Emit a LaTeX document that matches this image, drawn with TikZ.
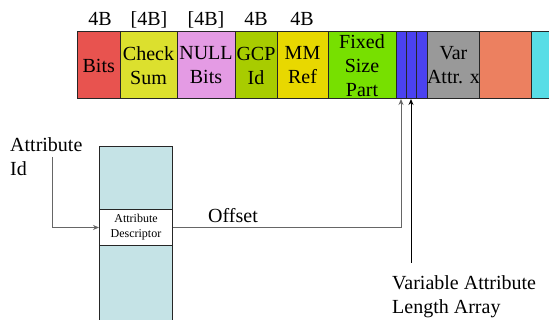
\documentclass[tikz,border=0pt]{standalone}
\usepackage{fontspec}
\setmainfont{Liberation Serif}
\usetikzlibrary{arrows.meta}

\definecolor{cBits}{HTML}{E8534F}
\definecolor{cCheck}{HTML}{DCE02E}
\definecolor{cNull}{HTML}{E49BE4}
\definecolor{cGcp}{HTML}{A8CC00}
\definecolor{cMm}{HTML}{E8D800}
\definecolor{cFixed}{HTML}{77E000}
\definecolor{cSlot}{HTML}{4B42F0}
\definecolor{cVar}{HTML}{999999}
\definecolor{cSalmon}{HTML}{EC8060}
\definecolor{cCyan}{HTML}{58DDE6}
\definecolor{cColumn}{HTML}{C5E3E6}

\tikzset{
  seg/.style={draw=black!85, line width=1pt, anchor=north west, inner sep=0pt,
    outer sep=0pt, minimum height=67pt, align=center,
    font=\fontsize{20}{24}\selectfont},
  size/.style={anchor=base, inner sep=0pt, font=\fontsize{20}{24}\selectfont},
  label/.style={anchor=north west, inner sep=0pt, align=left,
    font=\fontsize{20}{24}\selectfont},
  wire/.style={line width=1pt},
  tip/.style={-{Stealth[length=6pt,width=5pt]}},
}

\begin{document}
\begin{tikzpicture}[x=1pt,y=-1pt]
  \clip (0,0) rectangle (549,320);
  \fill[white] (0,0) rectangle (549,320);

  % record layout bar
  \node[seg, fill=cBits,   minimum width=42.5pt] (bits)  at (77.5,32) {Bits};
  \node[seg, fill=cCheck,  minimum width=57pt]   (check) at (120,32)  {Check\\Sum};
  \node[seg, fill=cNull,   minimum width=58pt]   (null)  at (177,32)  {NULL\\Bits};
  \node[seg, fill=cGcp,    minimum width=42pt]   (gcp)   at (235,32)  {GCP\\Id};
  \node[seg, fill=cMm,     minimum width=51pt]   (mm)    at (277,32)  {MM\\Ref};
  \node[seg, fill=cFixed,  minimum width=68pt]   (fixed) at (328,32)  {Fixed\\Size\\Part};
  \node[seg, fill=cSlot,   minimum width=10pt]   (slota) at (396,32)  {};
  \node[seg, fill=cSlot,   minimum width=10pt]   (slotb) at (406,32)  {};
  \node[seg, fill=cSlot,   minimum width=11pt]   (slotc) at (416,32)  {};
  \node[seg, fill=cVar,    minimum width=52pt]   (var)   at (427,32)  {Var\\Attr. x};
  \node[seg, fill=cSalmon, minimum width=52pt]   (salm)  at (479,32)  {};
  \node[seg, fill=cCyan,   minimum width=40pt]   (cyan)  at (531,32)  {};

  % field sizes
  \node[size] (s1) at (100,26) {4B};
  \node[size] (s2) at (149,26) {[4B]};
  \node[size] (s3) at (206,26) {[4B]};
  \node[size] (s4) at (256,26) {4B};
  \node[size] (s5) at (302,26) {4B};

  % attribute descriptor table
  \node[draw=black!85, line width=1pt, fill=cColumn, anchor=north west,
        minimum width=73pt, minimum height=200pt, inner sep=0pt] (col) at (99,146) {};
  \node[draw=black!85, line width=1pt, fill=white, anchor=north west,
        minimum width=73pt, minimum height=36pt, inner sep=0pt, align=center,
        font=\fontsize{12}{15}\selectfont] (desc) at (99,209) {Attribute\\Descriptor};

  % labels
  \node[label] (attrid) at (10,137) {Attribute\\Id};
  \node[label, anchor=base west] (offset) at (208,223) {Offset};
  \node[label] (varlen) at (392,275) {Variable Attribute\\Length Array};

  % connectors
  \coordinate (idtail) at (52,157);
  \coordinate (lentail) at (411,263);
  \draw[wire, black!60, tip] (idtail) |- (desc.west);
  \draw[wire, black!60, tip] (desc.east) -| (slota.south);
  \draw[wire, black, tip] (lentail) -- (slotb.south);
\end{tikzpicture}
\end{document}
